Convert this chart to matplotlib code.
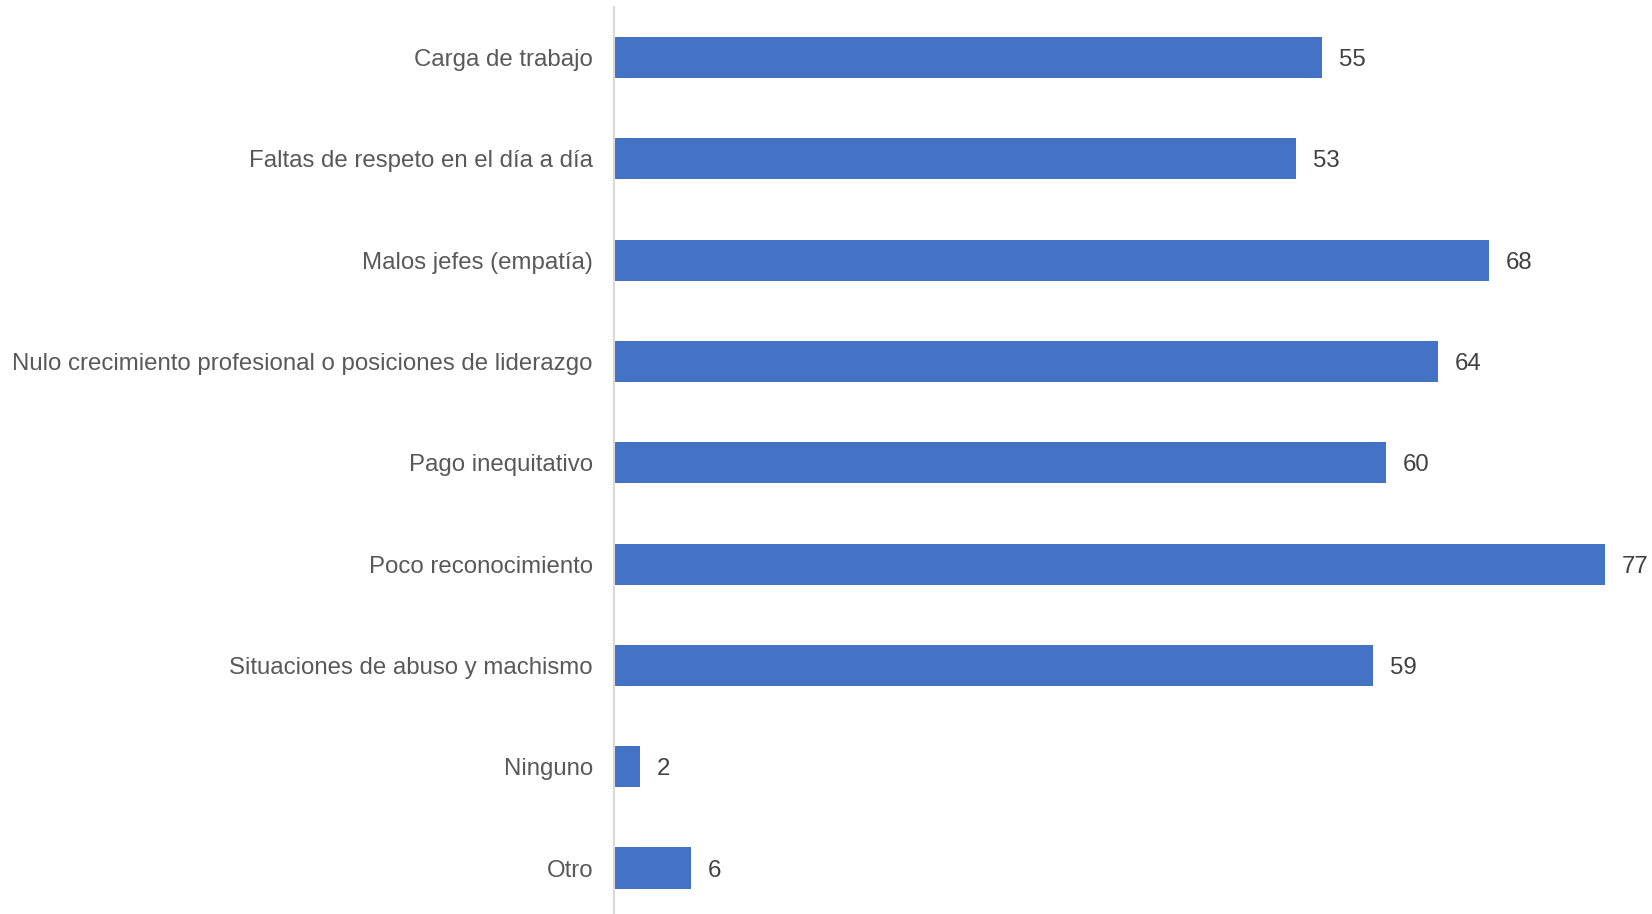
import matplotlib.pyplot as plt

categories = [
    "Carga de trabajo",
    "Faltas de respeto en el día a día",
    "Malos jefes (empatía)",
    "Nulo crecimiento profesional o posiciones de liderazgo",
    "Pago inequitativo",
    "Poco reconocimiento",
    "Situaciones de abuso y machismo",
    "Ninguno",
    "Otro",
]
values = [55, 53, 68, 64, 60, 77, 59, 2, 6]

plt.rcParams['font.family'] = ['Liberation Sans', 'DejaVu Sans']

fig = plt.figure(figsize=(16.52, 9.14), dpi=100)
ax = fig.add_axes([614 / 1652, 0, 1 - 614 / 1652, (914 - 7) / 914])

ypos = list(range(len(categories)))
bars = ax.barh(ypos, values, height=0.405, color='#4472C4', left=0)

for y, v in zip(ypos, values):
    ax.annotate(str(v), xy=(v, y), xytext=(17, 0), textcoords='offset pixels',
                va='center_baseline', ha='left', fontsize=17.3, color='#404040')

ax.set_xlim(0, 80.65)
ax.set_ylim(8.454, -0.498)
ax.set_yticks(ypos)
ax.set_yticklabels(categories, fontsize=17.3, color='#595959')
ax.tick_params(axis='y', length=0, pad=21 * 72 / 100)
ax.set_xticks([])

for side in ['top', 'right', 'bottom']:
    ax.spines[side].set_visible(False)
ax.spines['left'].set_color('#D9D9D9')
ax.spines['left'].set_linewidth(1.5)

fig.savefig('out.png', dpi=100)
